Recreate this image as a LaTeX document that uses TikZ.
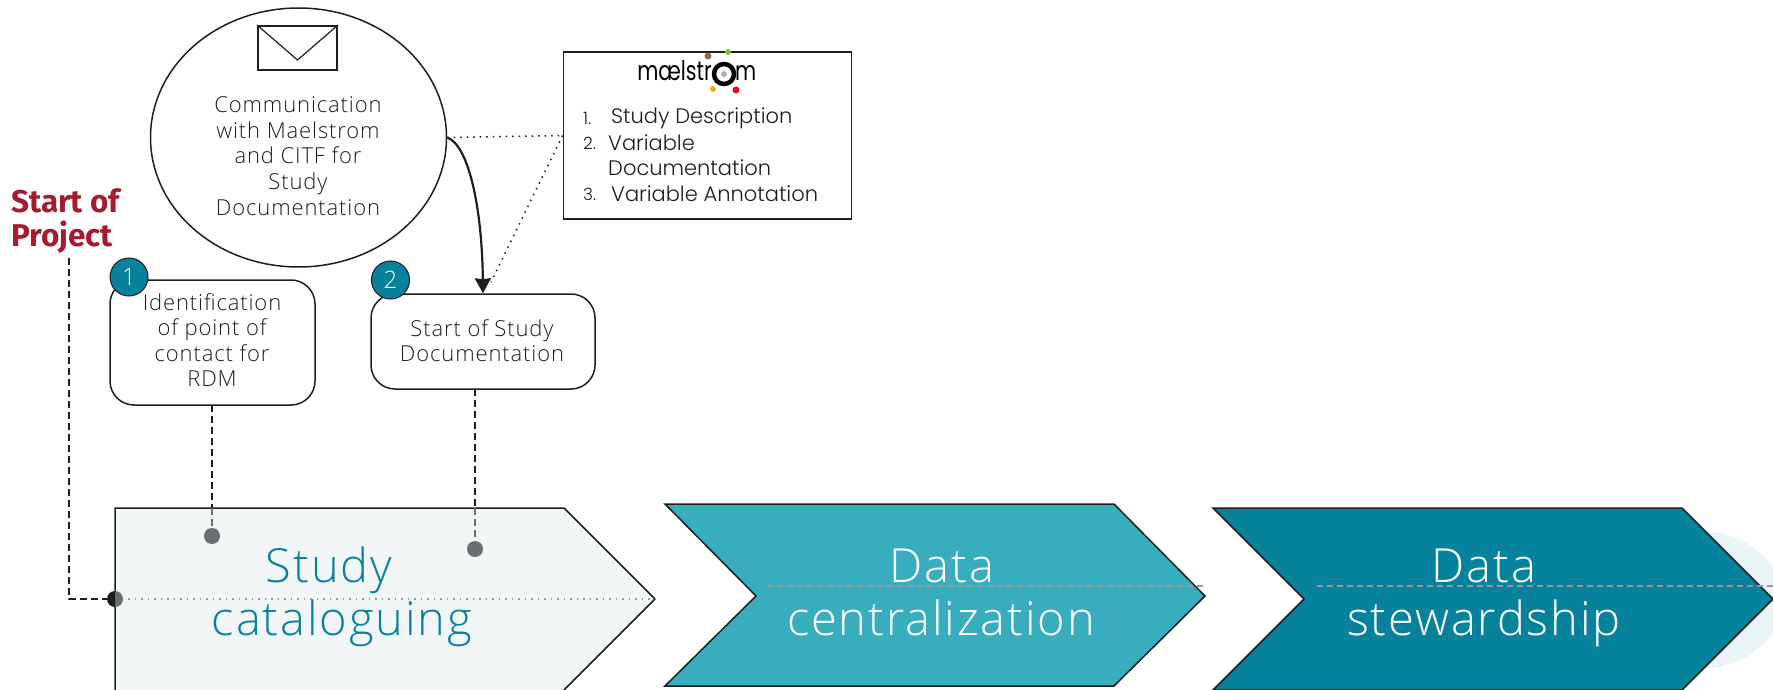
\documentclass[tikz,border=0pt]{standalone}
\usepackage{fontspec}
\setmainfont{Open Sans}[UprightFont=* Light,LetterSpace=4]
\newfontfamily\labelfont{Fira Sans}[UprightFont=* Bold]
\newfontfamily\listfont{Poppins}[UprightFont=* Light]
\newfontfamily\logofont{Poppins}[FakeStretch=0.76]
\usetikzlibrary{arrows.meta,shapes.geometric}
\definecolor{tealdark}{HTML}{07829C}
\definecolor{teallight}{HTML}{38ADBD}
\definecolor{palefill}{HTML}{F2F6F7}
\definecolor{paleblob}{HTML}{EAF5F7}
\definecolor{crimson}{HTML}{A51C30}
\definecolor{dotgrey}{HTML}{6B6E70}
\definecolor{inkline}{HTML}{1E1E1E}
\definecolor{inktext}{HTML}{1E1E1E}

\begin{document}
\begin{tikzpicture}[x=1pt, y=-1pt]
\tikzstyle{stepbox}=[draw=inkline, rectangle, rounded corners=24pt, line width=1.5pt]
\tikzstyle{steptext}=[text=inktext, align=center, font=\fontsize{22}{25.6}\selectfont]
\tikzstyle{badge}=[draw=inkline, fill=tealdark, circle, line width=1pt, minimum size=38pt, inner sep=0pt, text=white, font=\fontsize{24}{24}\selectfont]
\tikzstyle{pin}=[fill=dotgrey, circle, minimum size=16pt, inner sep=0pt]
\tikzstyle{dashblack}=[inkline, line width=2pt, dash pattern=on 7pt off 4pt]
\tikzstyle{dashgrey}=[dotgrey, line width=2pt, dash pattern=on 7pt off 4pt]
\tikzstyle{phase}=[line width=1.5pt, draw=inkline]
\tikzstyle{phasetext}=[anchor=base, inner sep=0pt, font=\fontsize{47}{55}\selectfont]
\tikzstyle{listtext}=[anchor=west, text=inktext, inner sep=0pt, font=\fontsize{21}{25}\listfont]
\tikzstyle{listnum}=[anchor=west, text=inktext, inner sep=0pt, font=\fontsize{17}{20}\listfont]
\tikzstyle{logodot}=[circle, inner sep=0pt]

\clip (0,0) rectangle (1773,690);

% chevrons
\fill[paleblob] (1700,600) ellipse [x radius=82, y radius=69];
\filldraw[phase, fill=palefill] (115,700) -- (115,508) -- (564,508) -- (655,599) -- (564,690) -- (564,700);
\filldraw[phase, fill=teallight] (665,504) -- (1114,504) -- (1205,596) -- (1114,686) -- (665,686) -- (756,596) -- cycle;
\filldraw[phase, fill=tealdark] (1213,508) -- (1682,508) -- (1773,599) -- (1682,690) -- (1213,690) -- (1304,599) -- cycle;

\node[phasetext, text=tealdark] (studylabel) at (329,582) {Study};
\node[phasetext, text=tealdark] (cataloglabel) at (342,635) {cataloguing};
\node[phasetext, text=white] (datalabelone) at (942,582) {Data};
\node[phasetext, text=white] (centrallabel) at (941,635) {centralization};
\node[phasetext, text=white] (datalabeltwo) at (1484,582) {Data};
\node[phasetext, text=white] (stewardlabel) at (1484,635) {stewardship};

% timeline
\coordinate (cattip) at (655,599);
\coordinate (centralstart) at (767,586);
\coordinate (centralend) at (1206,586);
\coordinate (stewardstart) at (1317,586);
\coordinate (stewardend) at (1773,586);
\node[pin, fill=none] (startdot) at (115,599) {};
\draw[dotgrey!70, line width=1.5pt, dash pattern=on 1.5pt off 5pt] (startdot.center) -- (cattip);
\draw[dotgrey!70, line width=1.5pt, dash pattern=on 6pt off 4pt] (centralstart) -- (centralend);
\draw[dotgrey!70, line width=1.5pt, dash pattern=on 6pt off 4pt] (stewardstart) -- (stewardend);

% start of project
\node[anchor=west, align=left, inner sep=0pt, text=crimson, font=\fontsize{31.5}{34.5}\labelfont] (startlabel) at (11,221) {Start of\\Project};
\coordinate (startfoot) at (69,258);
\draw[dashblack] (startfoot) |- (startdot.center);
\fill[dotgrey] (115,607) arc [start angle=90, end angle=-90, radius=8] -- cycle;
\fill[inkline] (115,607) arc [start angle=90, end angle=270, radius=8] -- cycle;

% communication
\node[draw=inkline, ellipse, line width=1.5pt, minimum width=296pt, minimum height=259pt, inner sep=0pt] (comm) at (298.5,137.5) {};
\node[steptext] (commtext) at (298,156) {Communication\\with Maelstrom\\and CITF for\\Study\\Documentation};
\node[draw=inkline, rectangle, line width=1.8pt, minimum width=79pt, minimum height=44pt, inner sep=0pt] (envelope) at (297.5,48) {};
\draw[inkline, line width=1.2pt] (envelope.north west) -- (297.5,60) -- (envelope.north east);

% documentation box
\node[draw=inkline, rectangle, line width=1.8pt, minimum width=288pt, minimum height=167pt, inner sep=0pt] (docbox) at (707.5,135.5) {};
\node[anchor=base east, inner sep=0pt, text=black, font=\fontsize{27}{27}\logofont] (logoleft) at (712,81) {mælstr};
\node[anchor=base west, inner sep=0pt, text=black, font=\fontsize{27}{27}\logofont] (logoright) at (735,81) {m};
\node[draw=black, circle, line width=4.5pt, minimum size=20pt, inner sep=0pt] (logoring) at (724,74) {};
\node[logodot, fill=gray!60, minimum size=6pt] (logocore) at (724,74) {};
\node[logodot, fill={rgb,255:red,150;green,105;blue,70}, minimum size=7pt] (logobrown) at (708,56) {};
\node[logodot, fill={rgb,255:red,130;green,190;blue,40}, minimum size=6pt] (logogreen) at (728,52) {};
\node[logodot, fill={rgb,255:red,235;green,175;blue,20}, minimum size=6pt] (logoyellow) at (713,89) {};
\node[logodot, fill={rgb,255:red,210;green,20;blue,40}, minimum size=7pt] (logored) at (736,90) {};

\node[listnum] (numone) at (583,118) {1.};
\node[listtext] (itemone) at (611,118) {Study Description};
\node[listnum] (numtwo) at (583,143) {2.};
\node[listtext] (itemtwo) at (608,143) {Variable};
\node[listtext] (itemtwob) at (608,168) {Documentation};
\node[listnum] (numthree) at (583,194) {3.};
\node[listtext] (itemthree) at (611,194) {Variable Annotation};

% steps
\node[stepbox, minimum width=205pt, minimum height=125pt] (pointbox) at (212.5,342.5) {};
\node[steptext] (pointtext) at (212,340) {Identification\\of point of\\contact for\\RDM};
\node[stepbox, minimum width=224pt, minimum height=95pt] (studybox) at (483,341.5) {};
\node[steptext] (studytext) at (482,340.5) {Start of Study\\Documentation};
\node[badge] (badgeone) at (129,277) {1};
\node[badge] (badgetwo) at (390.5,280) {2};

\node[pin] (pinone) at (212,536) {};
\node[pin] (pintwo) at (475,549) {};
\coordinate (pinonetop) at (212,508);
\coordinate (pintwotop) at (475,508);
\coordinate (pinonestart) at (212,405);
\coordinate (pintwostart) at (475,389);
\draw[dashblack] (pinonestart) -- (pinonetop);
\draw[dashgrey] (pinonetop) -- (pinone);
\draw[dashblack] (pintwostart) -- (pintwotop);
\draw[dashgrey] (pintwotop) -- (pintwo);

% links
\coordinate (dottedend) at (491,282);
\draw[inkline, line width=1.5pt, dash pattern=on 1.5pt off 5pt] (comm.east) -- (docbox.west);
\draw[inkline, line width=1.5pt, dash pattern=on 1.5pt off 5pt] (docbox.west) -- (dottedend);
\draw[-{Stealth[length=15pt,width=16pt,inset=1pt]}, inkline, line width=2.2pt] (comm.east) .. controls (468,145) and (482,205) .. (studybox.north);

\end{tikzpicture}
\end{document}
